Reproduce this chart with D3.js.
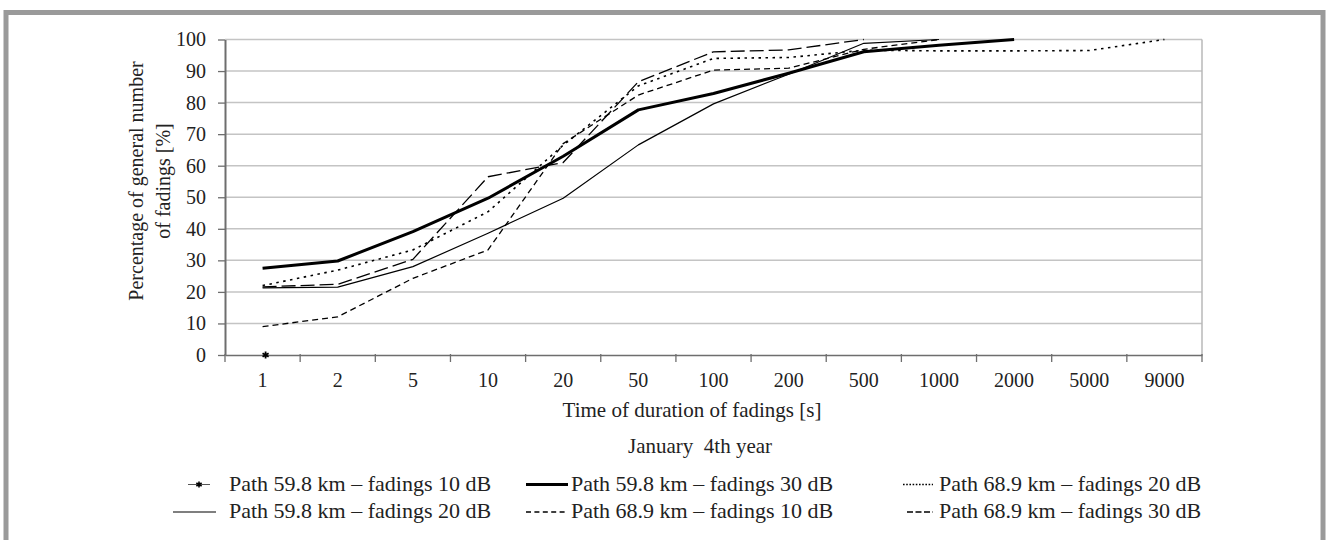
<!DOCTYPE html>
<html>
<head>
<meta charset="utf-8">
<script src="https://cdn.jsdelivr.net/npm/d3@7"></script>
<style>
  body { margin: 0; background: #fff; }
  text { font-family: "Liberation Serif", "Times New Roman", serif; fill: #222; }
</style>
</head>
<body>
<script>
// categories on the x axis (time of duration of fadings, s)
const categories = ['1', '2', '5', '10', '20', '50', '100', '200', '500', '1000', '2000', '5000', '9000']
const yTicks = [0, 10, 20, 30, 40, 50, 60, 70, 80, 90, 100]

// series values (percent)
const path598_10dB = [0]
const path598_20dB = [21.3, 21.5, 28, 38.6, 49.7, 66.6, 79.6, 89, 98.8, 100]
const path598_30dB = [27.5, 29.8, 39.1, 49.7, 63, 77.7, 82.9, 89.3, 96.1, 98.2, 100]
const path689_10dB = [9, 12.1, 24.3, 33.3, 67, 82.4, 90.3, 90.9, 96.9, 100]
const path689_20dB = [22, 26.9, 33.3, 45.4, 66.5, 85.3, 94, 94.3, 96.6, 96.4, 96.4, 96.5, 100]
const path689_30dB = [21.6, 22.4, 30.3, 56.5, 61, 86.6, 96.1, 96.7, 100]

const W = 1327, H = 540
const plot = {left: 225, right: 1202, top: 39.5, bottom: 355}

const svg = d3.select('body').append('svg')
  .attr('width', W)
  .attr('height', H)

// outer grey frame
svg.append('rect')
  .attr('x', 6).attr('y', 12.5)
  .attr('width', 1317).attr('height', 600)
  .attr('fill', 'none')
  .attr('stroke', '#9a9a9a')
  .attr('stroke-width', 5)

const x = d3.scaleBand().domain(categories).range([plot.left, plot.right]).padding(0)
const y = d3.scaleLinear().domain([0, 100]).range([plot.bottom, plot.top])
const cx = (i) => x(categories[i]) + x.bandwidth() / 2

// grid lines
svg.append('g').selectAll('line').data(yTicks.filter(d => d > 0)).join('line')
  .attr('x1', plot.left).attr('x2', plot.right)
  .attr('y1', d => y(d)).attr('y2', d => y(d))
  .attr('stroke', '#c4c4c4')
  .attr('stroke-width', 1.5)

// right edge of plot
svg.append('line')
  .attr('x1', plot.right).attr('x2', plot.right)
  .attr('y1', plot.top).attr('y2', plot.bottom)
  .attr('stroke', '#b8b8b8').attr('stroke-width', 1.5)

// y axis
const yaxis = d3.axisLeft(y).tickValues(yTicks).tickSize(7).tickPadding(12).tickSizeOuter(0)
const g_yaxis = svg.append('g')
  .attr('transform', `translate(${plot.left},0)`)
  .call(yaxis)
g_yaxis.select('.domain').attr('stroke', '#6e6e6e').attr('stroke-width', 2)
g_yaxis.selectAll('.tick line').attr('stroke', '#6e6e6e').attr('stroke-width', 1.3)
g_yaxis.selectAll('.tick text')
  .style('font-family', '"Liberation Serif", serif')
  .style('font-size', '20px')
  .attr('fill', '#222')

// x axis (labels at band centres, ticks on band boundaries)
const xaxis = d3.axisBottom(x).tickSize(0).tickPadding(18).tickSizeOuter(0)
const g_xaxis = svg.append('g')
  .attr('transform', `translate(0,${plot.bottom})`)
  .call(xaxis)
g_xaxis.select('.domain').attr('stroke', '#6e6e6e').attr('stroke-width', 1.6)
g_xaxis.selectAll('.tick text')
  .style('font-family', '"Liberation Serif", serif')
  .style('font-size', '20px')
  .attr('fill', '#222')

const bounds = categories.map(c => x(c)).concat([plot.right])
svg.append('g').selectAll('line').data(bounds).join('line')
  .attr('x1', d => d).attr('x2', d => d)
  .attr('y1', plot.bottom - 1).attr('y2', plot.bottom + 7)
  .attr('stroke', '#6e6e6e').attr('stroke-width', 1.3)

// axis titles
const yt = svg.append('text')
  .attr('transform', 'translate(143,181) rotate(-90)')
  .attr('text-anchor', 'middle')
  .style('font-size', '20px')
yt.append('tspan').attr('x', 0).attr('y', 0).text('Percentage of general number')
yt.append('tspan').attr('x', 0).attr('y', 27).text('of fadings [%]')

svg.append('text')
  .attr('x', 692).attr('y', 417)
  .attr('text-anchor', 'middle')
  .style('font-size', '21px')
  .text('Time of duration of fadings [s]')

svg.append('text')
  .attr('x', 700).attr('y', 453)
  .attr('text-anchor', 'middle')
  .style('font-size', '21px')
  .style('white-space', 'pre')
  .text('January  4th year')

// series
const series = [
  {name: 'Path 59.8 km \u2013 fadings 20 dB', values: path598_20dB, width: 1.2, dash: null},
  {name: 'Path 68.9 km \u2013 fadings 10 dB', values: path689_10dB, width: 1.3, dash: '6,4'},
  {name: 'Path 68.9 km \u2013 fadings 20 dB', values: path689_20dB, width: 1.6, dash: '2.5,4.5'},
  {name: 'Path 68.9 km \u2013 fadings 30 dB', values: path689_30dB, width: 1.3, dash: '14,5'},
  {name: 'Path 59.8 km \u2013 fadings 30 dB', values: path598_30dB, width: 3, dash: null}
]

const line = d3.line().x((d, i) => cx(i)).y(d => y(d))

svg.append('g').selectAll('path').data(series).join('path')
  .attr('d', d => line(d.values))
  .attr('fill', 'none')
  .attr('stroke', '#000')
  .attr('stroke-width', d => d.width)
  .attr('stroke-dasharray', d => d.dash)
  .attr('stroke-linejoin', 'round')

// single point series with asterisk marker
const star = d3.symbol(d3.symbolAsterisk, 34)
svg.append('g').selectAll('path').data(path598_10dB).join('path')
  .attr('d', star)
  .attr('transform', (d, i) => `translate(${cx(i) + 3},${y(d)})`)
  .attr('fill', 'none')
  .attr('stroke', '#000')
  .attr('stroke-width', 1.8)

// legend
const legend = [
  {name: 'Path 59.8 km \u2013 fadings 10 dB', x0: 188, x1: 210, tx: 229, row: 0, width: 1, dash: null, marker: true},
  {name: 'Path 59.8 km \u2013 fadings 30 dB', x0: 526, x1: 568, tx: 571, row: 0, width: 3, dash: null},
  {name: 'Path 68.9 km \u2013 fadings 20 dB', x0: 903, x1: 933, tx: 939, row: 0, width: 1.5, dash: '1.6,1.6'},
  {name: 'Path 59.8 km \u2013 fadings 20 dB', x0: 173, x1: 216, tx: 229, row: 1, width: 1.2, dash: null},
  {name: 'Path 68.9 km \u2013 fadings 10 dB', x0: 526, x1: 568, tx: 571, row: 1, width: 1.3, dash: '5,3.4'},
  {name: 'Path 68.9 km \u2013 fadings 30 dB', x0: 907, x1: 933, tx: 939, row: 1, width: 1.4, dash: '6,2.5'}
]
const rowY = [490.5, 518]

const lg = svg.append('g').selectAll('g').data(legend).join('g')
lg.append('line')
  .attr('x1', d => d.x0).attr('x2', d => d.x1)
  .attr('y1', d => rowY[d.row] - 6).attr('y2', d => rowY[d.row] - 6)
  .attr('stroke', d => d.marker ? '#555' : '#000')
  .attr('stroke-width', d => d.width)
  .attr('stroke-dasharray', d => d.dash)
lg.filter(d => d.marker).append('path')
  .attr('d', d3.symbol(d3.symbolAsterisk, 26))
  .attr('transform', d => `translate(${(d.x0 + d.x1) / 2},${rowY[d.row] - 6})`)
  .attr('fill', 'none').attr('stroke', '#000').attr('stroke-width', 1.6)
lg.append('text')
  .attr('x', d => d.tx).attr('y', d => rowY[d.row])
  .style('font-size', '22px')
  .text(d => d.name)
</script>
</body>
</html>
